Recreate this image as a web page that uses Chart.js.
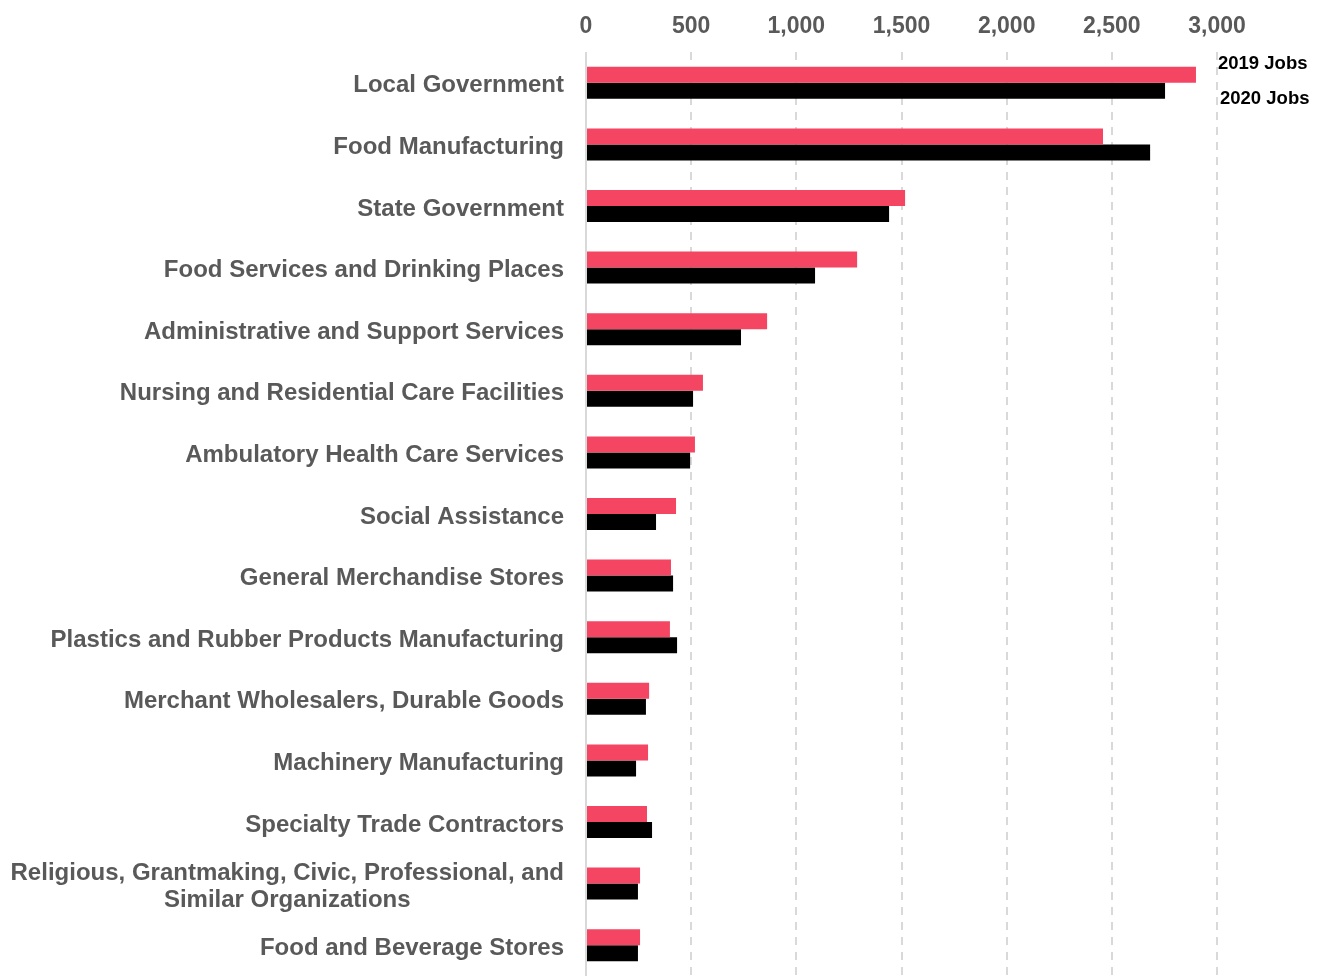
<!DOCTYPE html>
<html>

<head>
  <title>Top Industries by Jobs</title>
  <script src="https://cdn.jsdelivr.net/npm/chart.js@4.4.1/dist/chart.umd.min.js"></script>

  <style>
    body {
      margin: 0;
      background-color: white;
    }

    .chart-container {
      width: 1326px;
      height: 976px;
      position: relative;
    }
  </style>
</head>

<body>
  <div class="chart-container">
    <canvas id="jobsChart"></canvas>
  </div>

  <script>
    const industries = [
      'Local Government',
      'Food Manufacturing',
      'State Government',
      'Food Services and Drinking Places',
      'Administrative and Support Services',
      'Nursing and Residential Care Facilities',
      'Ambulatory Health Care Services',
      'Social Assistance',
      'General Merchandise Stores',
      'Plastics and Rubber Products Manufacturing',
      'Merchant Wholesalers, Durable Goods',
      'Machinery Manufacturing',
      'Specialty Trade Contractors',
      ['Religious, Grantmaking, Civic, Professional, and', 'Similar Organizations'],
      'Food and Beverage Stores'
    ];
    const jobs2019 = [2900, 2458, 1517, 1289, 861, 556, 518, 428, 404, 399, 300, 295, 290, 257, 257];
    const jobs2020 = [2753, 2682, 1441, 1089, 737, 509, 495, 333, 414, 433, 285, 238, 314, 247, 247];
    const seriesNames = ['2019 Jobs', '2020 Jobs'];
    const xTicks = [0, 500, 1000, 1500, 2000, 2500, 3000];

    const labelFont = 'bold 24px "Liberation Sans", Arial, sans-serif';
    const labelColor = '#595959';

    // left-hand category labels, right aligned; wrapped lines centred in their block
    const categoryLabels = {
      id: 'categoryLabels',
      afterDraw(chart) {
        const ctx = chart.ctx;
        const y = chart.scales.y;
        const right = chart.chartArea.left - 22;
        ctx.save();
        ctx.font = labelFont;
        ctx.fillStyle = labelColor;
        ctx.textBaseline = 'middle';
        industries.forEach((lab, i) => {
          const cy = y.getPixelForValue(i) + 3;
          const lines = Array.isArray(lab) ? lab : [lab];
          const widest = Math.max(...lines.map(l => ctx.measureText(l).width));
          const lh = 27;
          lines.forEach((l, j) => {
            const ly = cy + (j - (lines.length - 1) / 2) * lh;
            if (lines.length > 1) {
              ctx.textAlign = 'center';
              ctx.fillText(l, right - widest / 2, ly);
            } else {
              ctx.textAlign = 'right';
              ctx.fillText(l, right, ly);
            }
          });
        });
        ctx.restore();
      }
    };

    // series names beside the first pair of bars
    const seriesTags = {
      id: 'seriesTags',
      afterDraw(chart) {
        const ctx = chart.ctx;
        const x = chart.chartArea.right + 1;
        const b0 = chart.getDatasetMeta(0).data[0];
        const b1 = chart.getDatasetMeta(1).data[0];
        ctx.save();
        ctx.font = 'bold 18.5px "Liberation Sans", Arial, sans-serif';
        ctx.fillStyle = '#000';
        ctx.textAlign = 'left';
        ctx.textBaseline = 'middle';
        ctx.fillText(seriesNames[0], x, b0.y - 11);
        ctx.fillText(seriesNames[1], x + 2, b1.y + 8);
        ctx.restore();
      }
    };

    const ctx = document.getElementById('jobsChart').getContext('2d');

    new Chart(ctx, {
      type: 'bar',
      data: {
        labels: industries,
        datasets: [
          {
            label: seriesNames[0],
            data: jobs2019,
            backgroundColor: '#f44562'
          },
          {
            label: seriesNames[1],
            data: jobs2020,
            backgroundColor: '#000000'
          }
        ]
      },
      options: {
        indexAxis: 'y',
        responsive: true,
        maintainAspectRatio: false,
        animation: false,
        layout: {
          padding: { left: 0, right: 109, top: 0, bottom: 0 }
        },
        datasets: {
          bar: {
            barPercentage: 1,
            categoryPercentage: 0.52
          }
        },
        plugins: {
          legend: { display: false },
          tooltip: { enabled: false }
        },
        scales: {
          x: {
            position: 'top',
            min: 0,
            max: 3000,
            afterBuildTicks: function (scale) {
              scale.ticks = xTicks.map(v => ({ value: v }));
            },
            afterFit: function (scale) {
              scale.height = 52;
            },
            grid: {
              color: '#d9d9d9',
              lineWidth: 2,
              drawTicks: false
            },
            border: {
              display: false,
              dash: function (c) {
                return c.tick && c.tick.value === 0 ? [] : [8, 7];
              }
            },
            ticks: {
              padding: 12,
              color: labelColor,
              font: { family: '"Liberation Sans", Arial, sans-serif', size: 23, weight: 'bold' },
              callback: function (value) {
                return value.toLocaleString('en-US');
              }
            }
          },
          y: {
            afterFit: function (scale) {
              scale.width = 586;
            },
            grid: { display: false },
            border: { display: false },
            ticks: { display: false }
          }
        }
      },
      plugins: [categoryLabels, seriesTags]
    });
  </script>
</body>

</html>
